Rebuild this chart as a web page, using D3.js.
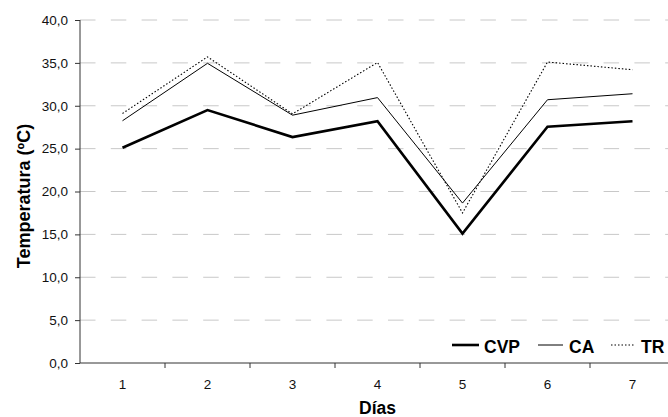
<!DOCTYPE html>
<html>
<head>
<meta charset="utf-8">
<script src="https://cdn.jsdelivr.net/npm/d3@7"></script>
<style>
  html, body { margin: 0; padding: 0; background: #fff; }
  svg { display: block; font-family: "Liberation Sans", Arial, sans-serif; }
</style>
</head>
<body>
<svg id="chart" width="668" height="417"></svg>
<script>
const days = ["1", "2", "3", "4", "5", "6", "7"];
const cvp = [25.1, 29.5, 26.35, 28.2, 15.1, 27.55, 28.2];
const ca  = [28.25, 34.95, 28.9, 30.95, 18.65, 30.7, 31.4];
const tr  = [29.1, 35.7, 29.05, 35.05, 17.5, 35.1, 34.2];
const yTicks = [0, 5, 10, 15, 20, 25, 30, 35, 40];
const seriesNames = ["CVP", "CA", "TR"];

const svg = d3.select("#chart");
const mLeft = 80, mRight = 675, mTop = 20, mBottom = 363;

const x = d3.scaleBand().domain(days).range([mLeft, mRight]);
const y = d3.scaleLinear().domain([0, 40]).range([mBottom, mTop]);
const fmt = d => d.toFixed(1).replace(".", ",");

// gridlines
svg.append("g").selectAll("line").data(yTicks.filter(d => d > 0)).join("line")
  .attr("x1", mLeft).attr("x2", mRight)
  .attr("y1", d => y(d)).attr("y2", d => y(d))
  .attr("stroke", "#c8c8c8").attr("stroke-width", 1)
  .attr("stroke-dasharray", "15.5,15.3");

// y axis
const yAxis = svg.append("g").attr("transform", `translate(${mLeft},0)`)
  .call(d3.axisLeft(y).tickValues(yTicks).tickFormat(fmt).tickSize(5).tickPadding(7));
yAxis.select(".domain").attr("stroke", "#333").attr("d", `M0,${mTop}V${mBottom}`);
yAxis.selectAll(".tick line").attr("stroke", "#333");
yAxis.selectAll("text").attr("font-size", "13.5px").attr("fill", "#111")
  .attr("font-family", "Liberation Sans, Arial, sans-serif");

// x axis
const xAxis = svg.append("g").attr("transform", `translate(0,${mBottom})`)
  .call(d3.axisBottom(x).tickSize(0).tickPadding(16));
xAxis.select(".domain").attr("stroke", "#333").attr("d", `M${mLeft},0H${mRight}`);
xAxis.selectAll("text").attr("font-size", "13.5px").attr("fill", "#111")
  .attr("font-family", "Liberation Sans, Arial, sans-serif");
// boundary ticks
xAxis.append("g").selectAll("line").data(days).join("line")
  .attr("x1", d => x(d) + x.bandwidth())
  .attr("x2", d => x(d) + x.bandwidth())
  .attr("y1", 0).attr("y2", 5).attr("stroke", "#333");

const line = d3.line().x((d, i) => x(days[i]) + x.bandwidth() / 2).y(d => y(d));

const styles = {
  CVP: { w: 2.6, dash: null },
  CA: { w: 1, dash: null },
  TR: { w: 1.1, dash: "1.5,2" }
};
const data = { CVP: cvp, CA: ca, TR: tr };

["TR", "CA", "CVP"].forEach(k => {
  svg.append("path").datum(data[k])
    .attr("d", line).attr("fill", "none")
    .attr("stroke", "#000").attr("stroke-width", styles[k].w)
    .attr("stroke-linejoin", "miter")
    .attr("stroke-dasharray", styles[k].dash);
});

// legend
const legendPos = { CVP: [452, 484], CA: [538, 569], TR: [611, 641] };
const legendW = { CVP: 27, CA: 25, TR: 24 };
seriesNames.forEach(k => {
  const [lx, tx] = legendPos[k];
  svg.append("line").attr("x1", lx).attr("x2", lx + legendW[k])
    .attr("y1", 345).attr("y2", 345)
    .attr("stroke", "#000").attr("stroke-width", styles[k].w)
    .attr("stroke-dasharray", styles[k].dash);
  svg.append("text").attr("x", tx).attr("y", 352.5)
    .attr("font-size", "17.5px").attr("font-weight", "bold").attr("fill", "#000")
    .text(k);
});

// axis titles
svg.append("text").attr("x", 377.5).attr("y", 414).attr("text-anchor", "middle")
  .attr("font-size", "17.5px").attr("font-weight", "bold").text("Días");
svg.append("text").attr("transform", "translate(30,196) rotate(-90)")
  .attr("text-anchor", "middle")
  .attr("font-size", "18px").attr("font-weight", "bold").text("Temperatura (ºC)");
</script>
</body>
</html>
